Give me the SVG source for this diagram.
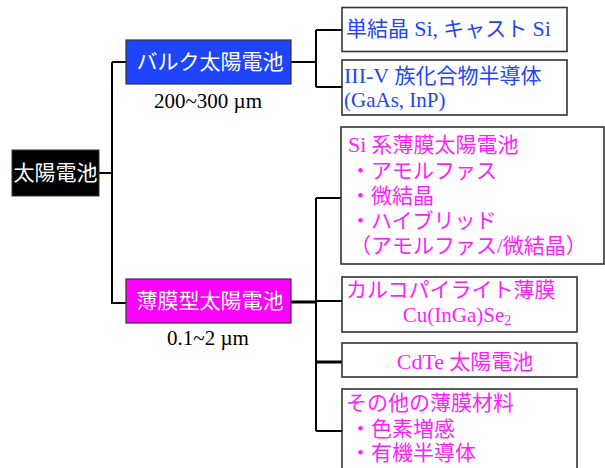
<svg xmlns="http://www.w3.org/2000/svg" width="605" height="468" viewBox="0 0 605 468">
<style>
.t{font-family:"Liberation Serif","Noto Sans CJK JP",serif;font-size:21px}
.w{fill:#ffffff}
.k{fill:#000000}
.b{fill:#1f45f5}
.m{fill:#ff1eff}
.box{fill:#ffffff;stroke:#333333;stroke-width:1.6}
.c{fill:none;stroke:#000000;stroke-width:2}
.ct{fill:none;stroke:#000000;stroke-width:3}
</style>
<rect width="605" height="468" fill="#ffffff"/>
<g id="connectors">
<path class="c" d="M99 173H112M112 62V304M112 62H126M112 303H126"/>
<path class="c" d="M291 62H316M316 30V87M316 30H342M316 87H342"/>
<path class="ct" d="M291 302H316"/>
<path class="c" d="M316 198V431M316 198H342M316 301H342M316 431H342"/>
<path class="ct" d="M316 362H342"/>
</g>
<g id="root">
<rect x="12" y="150" width="87" height="46" fill="#000000" stroke="#333333" stroke-width="1"/>
<text class="t w" x="55.5" y="180" text-anchor="middle">太陽電池</text>
</g>
<g id="bulk">
<rect x="126" y="40" width="165" height="44" fill="#1f45fc" stroke="#333333" stroke-width="1.2"/>
<text class="t w" x="210" y="69" text-anchor="middle">バルク太陽電池</text>
<text class="t k" x="208" y="108" text-anchor="middle" font-size="22">200~300 µm</text>
</g>
<g id="thinfilm">
<rect x="126" y="279" width="165" height="44" fill="#ff00ff" stroke="#333333" stroke-width="1.2"/>
<text class="t w" x="210" y="308" text-anchor="middle">薄膜型太陽電池</text>
<text class="t k" x="208" y="345" text-anchor="middle" font-size="22">0.1~2 µm</text>
</g>
<g id="mono">
<rect class="box" x="342" y="7.5" width="225" height="44"/>
<text class="t b" x="346" y="36">単結晶 <tspan font-size="22">Si,</tspan> キャスト <tspan font-size="22">Si</tspan></text>
</g>
<g id="iiiv">
<rect class="box" x="342" y="60" width="225" height="55"/>
<text class="t b" x="344" y="83"><tspan font-size="22">III-V</tspan> 族化合物半導体</text>
<text class="t b" x="344" y="107" font-size="22">(GaAs, InP)</text>
</g>
<g id="si-thin">
<rect class="box" x="341" y="127" width="263" height="137"/>
<text class="t m" x="348" y="152"><tspan font-size="22">Si</tspan> 系薄膜太陽電池</text>
<text class="t m" x="350" y="178">・アモルファス</text>
<text class="t m" x="350" y="203">・微結晶</text>
<text class="t m" x="350" y="228">・ハイブリッド</text>
<text class="t m" x="350" y="253">（アモルファス/微結晶）</text>
</g>
<g id="chalco">
<rect class="box" x="342" y="277" width="235" height="55"/>
<text class="t m" x="346" y="297">カルコパイライト薄膜</text>
<text class="t m" x="457" y="322" text-anchor="middle" font-size="22">Cu(InGa)Se<tspan font-size="14" dy="3">2</tspan></text>
</g>
<g id="cdte">
<rect class="box" x="342" y="343" width="235" height="34"/>
<text class="t m" x="465" y="369" text-anchor="middle"><tspan font-size="22">CdTe</tspan> 太陽電池</text>
</g>
<g id="other">
<rect class="box" x="342" y="389" width="235" height="90"/>
<text class="t m" x="346" y="410">その他の薄膜材料</text>
<text class="t m" x="350" y="436">・色素増感</text>
<text class="t m" x="350" y="460">・有機半導体</text>
</g>
</svg>
